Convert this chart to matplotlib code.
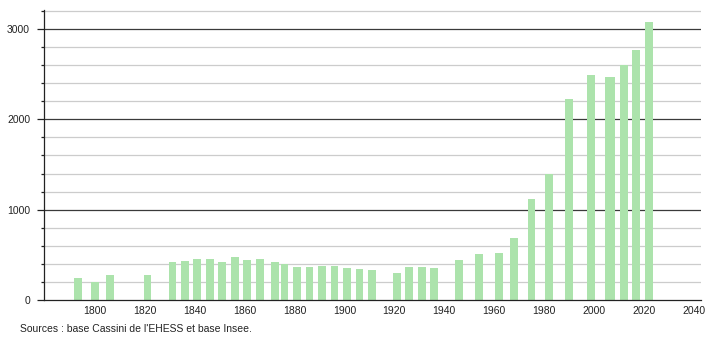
import matplotlib
matplotlib.use("Agg")
import matplotlib.pyplot as plt
from matplotlib.ticker import MultipleLocator

years = [1793, 1800, 1806, 1821, 1831, 1836, 1841, 1846, 1851, 1856, 1861, 1866,
         1872, 1876, 1881, 1886, 1891, 1896, 1901, 1906, 1911, 1921, 1926, 1931,
         1936, 1946, 1954, 1962, 1968, 1975, 1982, 1990, 1999, 2006, 2007, 2012,
         2017, 2022]
population = [247, 200, 277, 277, 421, 432, 458, 458, 425, 480, 443, 458,
              421, 399, 369, 369, 380, 380, 358, 347, 332, 299, 366, 366,
              355, 447, 510, 521, 687, 1119, 1400, 2228, 2494, 2471, 2465, 2601,
              2763, 3081]
x_ticks = [1800, 1820, 1840, 1860, 1880, 1900, 1920, 1940, 1960, 1980, 2000, 2020, 2040]
y_major = [0, 1000, 2000, 3000]
source_text = "Sources : base Cassini de l'EHESS et base Insee."

plt.rcParams['font.family'] = ['Liberation Sans', 'DejaVu Sans']

fig = plt.figure(figsize=(7.1, 3.4), dpi=100)
ax = fig.add_axes([44/710, 40/340, (701-44)/710, 290/340])

ax.set_xlim(1779.5, 2043)
ax.set_ylim(0, 3210)

# grid lines
for v in range(200, 3201, 200):
    if v % 1000 == 0:
        ax.axhline(v, color='#3a3a3a', lw=0.9, zorder=1)
    else:
        ax.axhline(v, color='#cccccc', lw=0.9, zorder=1)

ax.bar(years, population, width=3.1, color='#ace3ac', zorder=2, linewidth=0)

ax.set_xticks(x_ticks)
ax.set_xticklabels([str(t) for t in x_ticks], fontsize=7.45, color='#222222')
ax.tick_params(axis='x', length=0, pad=4)

ax.set_yticks(y_major)
ax.set_yticklabels([str(t) for t in y_major], fontsize=7.45, color='#222222')
ax.yaxis.set_minor_locator(MultipleLocator(200))
ax.tick_params(axis='y', which='major', length=5, width=0.9, color='#222222', pad=5)
ax.tick_params(axis='y', which='minor', length=2, width=0.9, color='#222222')

for s in ['top', 'right']:
    ax.spines[s].set_visible(False)
ax.spines['left'].set_color('#222222')
ax.spines['bottom'].set_color('#222222')
ax.spines['left'].set_linewidth(0.9)
ax.spines['bottom'].set_linewidth(0.9)

fig.text(20/710, 1 - 329/340, source_text, fontsize=7.45, color='#222222',
         ha='left', va='center')

fig.savefig('out.png', dpi=100)
